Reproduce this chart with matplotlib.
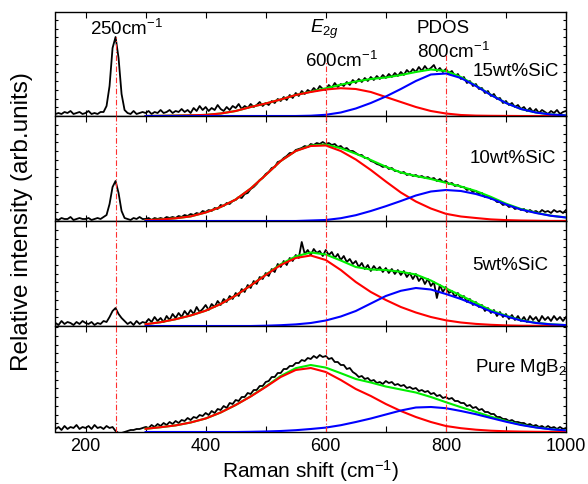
import numpy as np
import matplotlib
matplotlib.use("Agg")
import matplotlib.pyplot as plt
from matplotlib.ticker import MultipleLocator

plt.rcParams['font.family'] = ['Liberation Sans', 'DejaVu Sans']
plt.rcParams['mathtext.fontset'] = 'custom'
plt.rcParams['mathtext.rm'] = 'Liberation Sans'
plt.rcParams['mathtext.it'] = 'Liberation Sans:italic'

# measured spectra, 150-1000 cm-1 every 5 cm-1 (arb. units)
shift = np.arange(150, 1001, 5)
# Gaussian fit components, 300-1000 cm-1 every 25 cm-1
fit_shift = np.arange(300, 1001, 25)

raw_15 = [2, 3, 2, 4, 3, 5, 2, 3, 4, 2,
          3, 5, 2, 3, 2, 4, 4, 10, 30, 68,
          79, 58, 22, 6, 3, 2, 5, 2, 3, 4,
          3, 5, 2, 4, 3, 6, 3, 4, 6, 3,
          5, 4, 7, 4, 6, 3, 8, 5, 10, 6,
          9, 5, 8, 6, 11, 7, 5, 9, 6, 10,
          8, 12, 7, 10, 8, 12, 9, 11, 14, 10,
          13, 11, 15, 13, 17, 15, 19, 16, 21, 18,
          23, 20, 25, 22, 26, 24, 28, 25, 30, 27,
          26, 31, 28, 33, 29, 32, 30, 34, 31, 36,
          33, 37, 34, 38, 35, 39, 36, 40, 37, 41,
          38, 42, 39, 43, 40, 44, 41, 46, 43, 47,
          44, 49, 45, 50, 46, 48, 51, 45, 48, 44,
          47, 43, 45, 40, 42, 37, 39, 33, 35, 30,
          32, 27, 28, 23, 25, 20, 22, 17, 18, 13,
          15, 11, 13, 9, 11, 7, 9, 5, 8, 4,
          7, 3, 6, 4, 2, 5, 3, 6, 2, 4, 5]
raw_10 = [2, 1, 3, 2, 2, 4, 1, 2, 3, 2,
          2, 3, 1, 2, 3, 2, 4, 6, 17, 34,
          40, 28, 10, 3, 2, 1, 3, 2, 4, 2,
          2, 3, 1, 3, 2, 3, 2, 4, 3, 4,
          3, 5, 4, 6, 5, 7, 6, 8, 7, 10,
          9, 11, 10, 13, 12, 16, 15, 18, 17, 20,
          21, 24, 23, 27, 28, 32, 34, 37, 41, 43,
          47, 49, 53, 54, 59, 60, 63, 65, 68, 68,
          71, 72, 73, 75, 74, 77, 76, 78, 77, 79,
          77, 78, 76, 77, 74, 75, 72, 73, 70, 70,
          68, 66, 66, 63, 63, 60, 59, 57, 56, 54,
          55, 52, 53, 50, 50, 48, 49, 46, 47, 45,
          46, 44, 45, 43, 44, 42, 43, 40, 42, 39,
          40, 37, 38, 35, 36, 34, 34, 31, 32, 29,
          30, 27, 28, 24, 25, 22, 22, 19, 19, 16,
          17, 14, 15, 12, 13, 11, 12, 9, 11, 9,
          10, 8, 11, 9, 10, 8, 11, 9, 10, 8, 11]
raw_5 = [3, 1, 5, 2, 4, 3, 1, 4, 2, 5,
         3, 2, 4, 1, 3, 2, 5, 4, 9, 15,
         18, 12, 8, 5, 2, 4, 1, 5, 2, 4,
         3, 7, 4, 9, 5, 8, 4, 10, 6, 12,
         8, 13, 9, 15, 11, 16, 12, 19, 14, 17,
         21, 16, 22, 19, 25, 21, 27, 24, 30, 27,
         33, 30, 37, 34, 41, 38, 45, 42, 49, 47,
         53, 50, 57, 54, 62, 59, 65, 61, 68, 65,
         71, 68, 84, 72, 76, 71, 77, 73, 75, 70,
         76, 71, 74, 68, 72, 66, 70, 64, 67, 62,
         65, 59, 63, 57, 61, 55, 60, 56, 59, 54,
         58, 53, 57, 52, 56, 51, 55, 49, 53, 47,
         52, 45, 49, 42, 47, 40, 44, 28, 41, 34,
         39, 33, 35, 29, 33, 27, 30, 24, 27, 21,
         24, 19, 21, 15, 18, 13, 16, 10, 14, 9,
         12, 7, 11, 6, 10, 5, 9, 4, 10, 6,
         9, 4, 10, 6, 9, 5, 10, 6, 9, 5, 9]
raw_0 = [3, 5, 2, 6, 3, 5, 4, 7, 3, 5,
         4, 6, 3, 7, 4, 5, 3, 6, 4, 5,
         1, -1, -1, 0, 1, 2, 2, 3, 3, 4,
         5, 4, 7, 5, 8, 6, 9, 7, 10, 8,
         11, 9, 12, 11, 14, 12, 15, 14, 17, 16,
         19, 17, 21, 19, 23, 22, 26, 24, 29, 28,
         32, 31, 35, 35, 39, 38, 42, 42, 46, 46,
         50, 51, 55, 55, 59, 59, 63, 63, 66, 66,
         69, 69, 72, 71, 74, 73, 76, 74, 77, 75,
         76, 73, 74, 70, 70, 67, 67, 63, 64, 60,
         58, 55, 56, 53, 54, 51, 52, 49, 50, 48,
         51, 49, 50, 47, 48, 46, 47, 44, 45, 43,
         44, 41, 42, 40, 41, 38, 39, 36, 37, 34,
         35, 33, 34, 31, 31, 29, 29, 26, 27, 24,
         25, 22, 23, 20, 20, 18, 18, 15, 15, 13,
         13, 11, 12, 10, 10, 9, 9, 7, 8, 6,
         7, 5, 6, 4, 6, 4, 5, 3, 5, 3, 4]

# E2g component (red)
e2g_15 = [0, 0.2, 0.4, 0.7, 1.1, 2.5, 5, 9, 12.5, 16.5, 21, 24, 26.5, 27.8, 27,
          24, 19, 14, 9, 5, 2.5, 1, 0.4, 0.2, 0.1, 0, 0, 0, 0]
e2g_10 = [0.8, 1.5, 2.7, 4.6, 8.5, 14, 21.5, 32.5, 46, 60, 70, 75, 75.5, 70, 61.5,
          51, 39.5, 28.5, 19.5, 12.5, 7.2, 4.5, 3, 1.6, 0.9, 0.5, 0.3, 0.1, 0.1]
e2g_5 = [1.8, 3.8, 6.8, 10.5, 15.3, 22, 30.5, 40.5, 51, 61, 68, 70.5, 66, 56, 44,
         34, 26, 19, 13.5, 9, 5.7, 3.5, 2.1, 1.2, 0.6, 0.3, 0.2, 0.1, 0]
e2g_0 = [3.2, 4.8, 6.6, 9.5, 13.5, 19.5, 27, 35.5, 45, 55, 62, 64, 60, 52, 43,
         36, 28, 21, 15, 10, 6, 3.8, 2.3, 1.3, 0.7, 0.4, 0.2, 0.1, 0]

# PDOS component (blue)
pdos_15 = [0, 0, 0, 0, 0, 0, 0, 0, 0, 0, 0, 0.3, 1.2, 3.5, 7.5,
           13, 19.5, 27, 35, 41.5, 42.5, 38, 30, 21, 13, 7, 3.5, 1.5, 0.6]
pdos_10 = [0, 0, 0, 0, 0, 0, 0, 0, 0, 0, 0, 0.5, 1, 2.8, 5.8,
           10, 14.8, 20, 25.5, 29.5, 31, 30, 27, 22.5, 16.5, 11.5, 8, 5.2, 3.5]
pdos_5 = [0, 0, 0, 0, 0, 0, 0, 0, 0.3, 0.8, 1.6, 3, 5.5, 9.5, 15,
          22.5, 30, 35.2, 38, 36.5, 32, 27, 21, 14.5, 9.8, 5.5, 3, 1.6, 0.9]
pdos_0 = [0, 0, 0, 0, 0, 0, 0, 0.2, 0.5, 1, 1.8, 3, 4.4, 6.8, 10,
          13.5, 17.5, 21.5, 24.5, 25, 23.8, 21, 17.8, 14, 10.3, 7, 4.5, 2.7, 1.6]

samples = ['15wt%SiC', '10wt%SiC', '5wt%SiC', 'Pure MgB$_2$']
raw = [raw_15, raw_10, raw_5, raw_0]
e2g = [e2g_15, e2g_10, e2g_5, e2g_0]
pdos = [pdos_15, pdos_10, pdos_5, pdos_0]
marks = [250, 600, 800]

W, H = 588, 485
fig = plt.figure(figsize=(W / 100, H / 100), dpi=100)
tops = [13, 117, 222, 327]
bottoms = [117, 222, 327, 433]
left, right = 55.5, 566

label_pos = [(845, 41), (840, 59), (843, 57), (848, 61)]
axes = []
for i in range(4):
    hpx = bottoms[i] - tops[i]
    ax = fig.add_axes([left / W, 1 - bottoms[i] / H, (right - left) / W, hpx / H])
    ax.set_xlim(150, 1000)
    ax.set_ylim(0, hpx)

    ax.plot(shift, raw[i], color='black', lw=1.3, zorder=2)
    total = np.array(e2g[i]) + np.array(pdos[i])
    ax.plot(fit_shift, total, color='#00ee00', lw=1.5, zorder=3)
    ax.plot(fit_shift, e2g[i], color='#ff0000', lw=1.5, zorder=4)
    ax.plot(fit_shift, pdos[i], color='#0000ff', lw=1.5, zorder=5)

    if i == 0:
        # reference lines stop below the peak labels in the top panel
        tops_v = [79, 54, 62]
        for m, t in zip(marks, tops_v):
            ax.plot([m, m], [0, t], color='#ff3030', lw=0.8,
                    ls=(0, (5, 2, 1, 2)), zorder=6)
    else:
        for m in marks:
            ax.axvline(m, color='#ff3030', lw=0.8, ls=(0, (5, 2, 1, 2)), zorder=6)

    lx, ly = label_pos[i]
    ax.text(lx, ly, samples[i], fontsize=13.5, ha='left', va='baseline')

    ax.xaxis.set_major_locator(MultipleLocator(200))
    ax.xaxis.set_minor_locator(MultipleLocator(100))
    ax.yaxis.set_major_locator(MultipleLocator(1000))
    ax.yaxis.set_minor_locator(MultipleLocator(8.75))
    ax.tick_params(which='both', direction='in', top=True, right=True,
                   labelleft=False, labelsize=13)
    ax.tick_params(which='major', length=4, width=0.8)
    ax.tick_params(which='minor', length=4, width=0.8)
    ax.tick_params(axis='y', which='minor', length=2.5)
    if i < 3:
        ax.tick_params(labelbottom=False)
    for s in ax.spines.values():
        s.set_linewidth(1.0)
    axes.append(ax)

top = axes[0]
top.text(268, 82, '250cm$^{-1}$', fontsize=13.5, ha='center', va='baseline')
top.text(573, 84, '$E_{2g}$', fontsize=13.5, ha='left', va='baseline')
top.text(795, 84, 'PDOS', fontsize=13.5, ha='center', va='baseline')
top.text(565, 50, '600cm$^{-1}$', fontsize=13.5, ha='left', va='baseline')
top.text(752, 59, '800cm$^{-1}$', fontsize=13.5, ha='left', va='baseline')

fig.text((left + right) / 2 / W, 1 - 478 / H, 'Raman shift (cm$^{-1}$)',
         fontsize=15, ha='center', va='baseline')
fig.text(22 / W, 1 - 222 / H, 'Relative intensity (arb.units)', rotation=90,
         fontsize=17.5, ha='center', va='center')

fig.savefig('out.png', dpi=100)
